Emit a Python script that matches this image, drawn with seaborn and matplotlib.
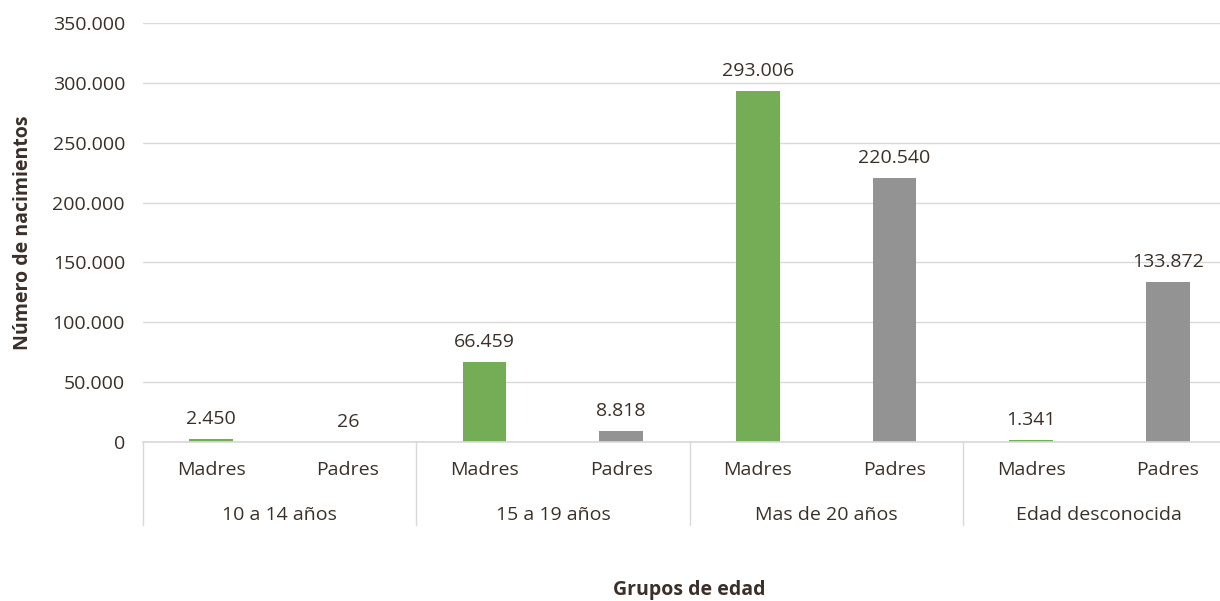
import pandas as pd
import seaborn as sns
import matplotlib.pyplot as plt
import matplotlib.transforms as mtransforms
from matplotlib.ticker import FuncFormatter

# datos
grupos = ['10 a 14 años', '15 a 19 años', 'Mas de 20 años', 'Edad desconocida']
sexos = ['Madres', 'Padres']
madres = [2450, 66459, 293006, 1341]
padres = [26, 8818, 220540, 133872]


def fmt_miles(v, pos=None):
    return f'{int(round(v)):,}'.replace(',', '.')


rows = []
for g, m, p in zip(grupos, madres, padres):
    rows.append({'grupo': g, 'sexo': 'Madres', 'cat': f'{g}|Madres', 'valor': m})
    rows.append({'grupo': g, 'sexo': 'Padres', 'cat': f'{g}|Padres', 'valor': p})
df = pd.DataFrame(rows)

sns.set_theme(style='white')
plt.rcParams['font.family'] = ['Open Sans', 'DejaVu Sans']
text_color = '#3b3029'
grid_color = '#d9d9d9'
fs = 14

fig = plt.figure(figsize=(12.2, 6.01), dpi=100)
ax = fig.add_axes([143 / 1220, 1 - 442 / 601, (1236 - 143) / 1220, (442 - 23) / 601])

g = sns.barplot(df, x='cat', y='valor', hue='sexo', dodge=False, width=0.32,
                palette={'Madres': '#75ad57', 'Padres': '#939393'},
                saturation=1, legend=False, linewidth=0, ax=ax)

for cont in ax.containers:
    ax.bar_label(cont, labels=[fmt_miles(b.get_height()) for b in cont],
                 padding=8, fontsize=fs, color=text_color)

ax.set_xlim(-0.5, 7.5)
ax.set_ylim(0, 350000)
ax.set_yticks(range(0, 350001, 50000))
ax.yaxis.set_major_formatter(FuncFormatter(fmt_miles))
ax.tick_params(axis='y', length=0, pad=13, labelsize=fs, labelcolor=text_color)
ax.grid(axis='y', color=grid_color, linewidth=1)
ax.set_axisbelow(True)
sns.despine(ax=ax, left=True, right=True, top=True)
ax.spines['bottom'].set_color(grid_color)

# ejes categoricos de dos niveles
ax.set_xticks([])
ax.set_xlabel('')
trans = mtransforms.blended_transform_factory(ax.transData, ax.transAxes)
for i, cat in enumerate(df['cat']):
    ax.text(i, -0.067, cat.split('|')[1], transform=trans, ha='center', va='center',
            fontsize=fs, color=text_color)
for j, grupo in enumerate(grupos):
    ax.text(2 * j + 0.5, -0.174, grupo, transform=trans, ha='center', va='center',
            fontsize=fs, color=text_color)
    ax.plot([2 * j - 0.5, 2 * j - 0.5], [0, -0.198], transform=trans, color=grid_color,
            linewidth=1, clip_on=False)

ax.set_ylabel('Número de nacimientos', fontsize=fs, fontweight='bold', color=text_color,
              labelpad=14)
fig.text((143 + 1236) / 2 / 1220, 1 - 590 / 601, 'Grupos de edad', ha='center', va='center',
         fontsize=fs, fontweight='bold', color=text_color)

plt.savefig('out.png', dpi=100)
plt.close()
